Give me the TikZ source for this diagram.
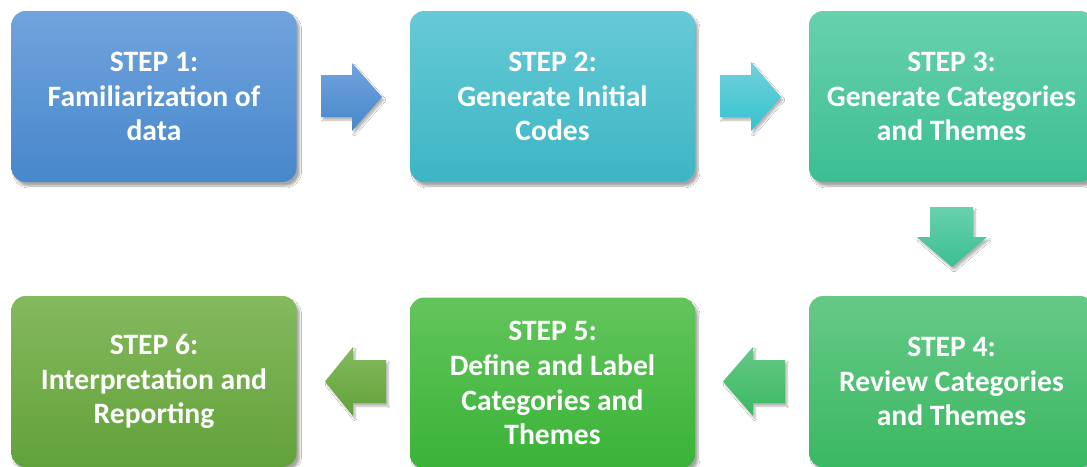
\documentclass[tikz,border=0pt]{standalone}
\usepackage{fontspec}
\setmainfont{Carlito}
\usetikzlibrary{shadows.blur}
\tikzset{
  stepbox/.style={rounded corners=14pt, minimum width=285pt, minimum height=171pt,
    inner sep=0pt, text=white, align=center,
    font=\fontsize{29.6}{34.8}\selectfont\bfseries,
    blur shadow={shadow xshift=3pt, shadow yshift=-4pt, shadow blur steps=8, shadow opacity=35}},
  blockarrow/.style={draw=none, blur shadow={shadow xshift=2pt, shadow yshift=-3pt, shadow blur steps=6, shadow opacity=30}}
}
\definecolor{bA}{HTML}{70A4DD}\definecolor{bB}{HTML}{4787CB}
\definecolor{tA}{HTML}{66CAD6}\definecolor{tB}{HTML}{3DB5C4}
\definecolor{gA}{HTML}{68D1AE}\definecolor{gB}{HTML}{3BBE93}
\definecolor{hA}{HTML}{66C986}\definecolor{hB}{HTML}{3AB862}
\definecolor{iA}{HTML}{62C55C}\definecolor{iB}{HTML}{3AB337}
\definecolor{jA}{HTML}{85B95E}\definecolor{jB}{HTML}{62A23A}
\begin{document}
\begin{tikzpicture}[x=1pt,y=-1pt]
\useasboundingbox (0,0) rectangle (1087,466);
\fill[white] (0,0) rectangle (1087,466);
\clip (0,0) rectangle (1087,466);
\node[stepbox, top color=bA, bottom color=bB] (s1) at (154,96.5) {STEP 1:\\Familiarization of\\data};
\node[stepbox, top color=tA, bottom color=tB] (s2) at (552.5,96.5) {STEP 2:\\Generate Initial\\Codes};
\node[stepbox, top color=gA, bottom color=gB] (s3) at (951.5,96.5) {STEP 3:\\Generate Categories\\and Themes};
\node[stepbox, top color=hA, bottom color=hB] (s4) at (951.5,381.5) {STEP 4:\\Review Categories\\and Themes};
\node[stepbox, top color=iA, bottom color=iB] (s5) at (552.5,383) {STEP 5:\\Define and Label\\Categories and\\Themes};
\node[stepbox, top color=jA, bottom color=jB] (s6) at (154,381.5) {STEP 6:\\Interpretation and\\Reporting};
% arrows
\path[blockarrow, top color=bA, bottom color=bB]
  (321,75) -- (352,75) -- (352,63) -- (382,97) -- (352,131) -- (352,117) -- (321,117) -- cycle;
\path[blockarrow, top color=tA!90!white, bottom color=tB!80!cyan]
  (720,75) -- (751,75) -- (751,62) -- (781,97) -- (751,131) -- (751,117) -- (720,117) -- cycle;
\path[blockarrow, top color=gA, bottom color=gB]
  (930,207) -- (973,207) -- (973,237) -- (987,237) -- (952,267) -- (917,237) -- (930,237) -- cycle;
\path[blockarrow, top color=hA, bottom color=hB]
  (785,360) -- (753,360) -- (753,347) -- (723,381.5) -- (753,416) -- (753,403) -- (785,403) -- cycle;
\path[blockarrow, top color=jA, bottom color=jB]
  (386,360) -- (353,360) -- (353,347) -- (325,381.5) -- (353,416) -- (353,403) -- (386,403) -- cycle;
\end{tikzpicture}
\end{document}
